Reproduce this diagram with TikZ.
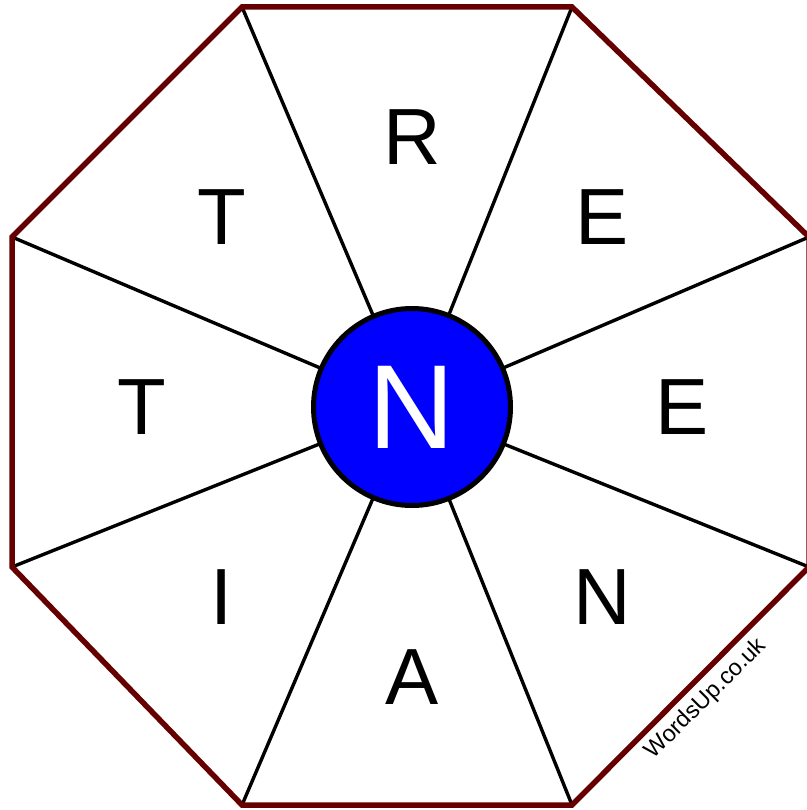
\documentclass[tikz,border=0pt]{standalone}
\usepackage{fontspec}
\setmainfont{Liberation Sans}
\definecolor{octred}{RGB}{102,0,0}
\definecolor{hubblue}{RGB}{0,0,255}
\tikzset{
  spoke/.style={draw=black, line width=3.4bp},
  rim/.style={draw=octred, line width=5.5bp, line join=miter},
  hub/.style={circle, draw=black, line width=5bp, fill=hubblue, minimum size=197bp, inner sep=0pt,
     text=white, font=\fontsize{120}{120}\selectfont},
  letter/.style={inner sep=0pt, anchor=center, font=\fontsize{80}{80}\selectfont}
}
\begin{document}
\begin{tikzpicture}[x=1bp,y=-1bp]
\useasboundingbox (0,0) rectangle (807,810);
\fill[white] (0,0) rectangle (807,810);
% vertices
\coordinate (v1) at (242,7);
\coordinate (v2) at (572,7);
\coordinate (v3) at (809,237);
\coordinate (v4) at (809,567);
\coordinate (v5) at (572,805);
\coordinate (v6) at (242,805);
\coordinate (v7) at (12,567);
\coordinate (v8) at (12,237);
\coordinate (ctr) at (412,407);
\foreach \v in {v1,v2,v3,v4,v5,v6,v7,v8} \draw[spoke] (\v) -- (ctr);
\draw[rim] (v1) -- (v2) -- (v3) -- (v4) -- (v5) -- (v6) -- (v7) -- (v8) -- cycle;
\node[hub] (c) at (ctr) {N};
\node[letter] (lR) at (412,137) {R};
\node[letter] (lE1) at (602,217) {E};
\node[letter] (lE2) at (682,407) {E};
\node[letter] (lN) at (602,597) {N};
\node[letter] (lA) at (412,677) {A};
\node[letter] (lI) at (222,597) {I};
\node[letter] (lT1) at (142,407) {T};
\node[letter] (lT2) at (222,217) {T};
\node[inner sep=0pt, rotate=45, font=\fontsize{23.5}{23.5}\selectfont] (wm) at (706,699) {WordsUp.co.uk};
\end{tikzpicture}
\end{document}
